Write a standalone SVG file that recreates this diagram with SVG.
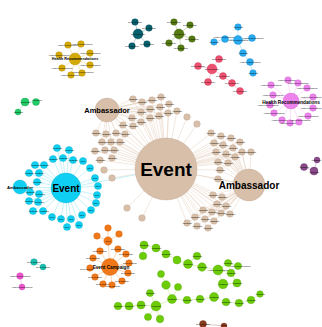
<svg xmlns="http://www.w3.org/2000/svg" width="322" height="327" viewBox="0 0 322 327">
<style>
text{font-family:"Liberation Sans",Arial,sans-serif;text-anchor:middle;fill:#000}
.lb{font-size:1.8px}
.hb{font-weight:bold}
.ta{fill:#d8bfa9;stroke:#b99f8a;stroke-width:.35}
.cy{fill:#0fd0f2;stroke:#0aa8c6;stroke-width:.35}
.or{fill:#f07818;stroke:#c85e0a;stroke-width:.35}
.gr{fill:#6ccc08;stroke:#52a000;stroke-width:.35}
.go{fill:#d6aa04;stroke:#a88400;stroke-width:.35}
.te{fill:#07606e;stroke:#03434e;stroke-width:.35}
.ol{fill:#557a12;stroke:#3c5a08;stroke-width:.35}
.bl{fill:#28aaf0;stroke:#1484c4;stroke-width:.35}
.pk{fill:#ee5070;stroke:#c43454;stroke-width:.35}
.vi{fill:#ec82ec;stroke:#c860c8;stroke-width:.35}
.pu{fill:#884a88;stroke:#663066;stroke-width:.35}
.dg{fill:#22cc66;stroke:#109950;stroke-width:.35}
.ts{fill:#18c0b0;stroke:#0c9888;stroke-width:.35}
.pi{fill:#ee55cc;stroke:#c43aa8;stroke-width:.35}
.br{fill:#8a3c1e;stroke:#66280e;stroke-width:.35}
.e{fill:none;stroke-width:.5}
</style>
<g id="connectors">
<path class="e" stroke="#e4d0be" d="M133 99L166 169M142 102L166 169M152 100L166 169M161 97L166 169M169 104L166 169M160 107L166 169M150 109L166 169M141 112L166 169M132 118L166 169M141 122L166 169M150 118L166 169M159 116L166 169M168 113L166 169M177 111L166 169M123 125L166 169M133 126L166 169M187 117L166 169M197 124L166 169M96 133L166 169M106 134L166 169M116 133L166 169M125 134L166 169M102 142L166 169M111 142L166 169M120 142L166 169M95 151L166 169M105 150L166 169M113 150L166 169M100 160L166 169M112 158L166 169M104 170L166 169M112 178L166 169M127 208L166 169M142 218L166 169M211 133L166 169M221 136L166 169M231 138L166 169M240 142L166 169M251 152L166 169M214 143L166 169M223 145L166 169M233 148L166 169M216 152L166 169M226 154L166 169M235 157L166 169M242 152L166 169M218 162L166 169M228 163L166 169M220 170L166 169M218 179L166 169M213 195L166 169M222 197L166 169M217 204L166 169M226 206L166 169M203 210L166 169M212 212L166 169M221 213L166 169M230 214L166 169M195 217L166 169M205 219L166 169M214 221L166 169M187 223L166 169M197 226L166 169M208 228L166 169M166 169L249 185M166 169L107 110"/>
<path class="e" stroke="#e4d0be" d="M107 110L133 99M107 110L142 102M107 110L152 100M107 110L161 97M107 110L169 104M107 110L160 107M107 110L150 109M107 110L141 112M107 110L132 118M107 110L141 122M107 110L150 118M107 110L159 116M107 110L168 113M107 110L123 125M107 110L133 126M107 110L96 133M107 110L106 134M107 110L116 133M107 110L125 134M107 110L102 142M107 110L111 142M107 110L120 142"/>
<path class="e" stroke="#e4d0be" d="M249 185L211 133M249 185L221 136M249 185L231 138M249 185L240 142M249 185L251 152M249 185L214 143M249 185L223 145M249 185L233 148M249 185L216 152M249 185L226 154M249 185L235 157M249 185L242 152M249 185L218 162M249 185L228 163M249 185L220 170M249 185L218 179M249 185L213 195M249 185L222 197M249 185L217 204M249 185L226 206M249 185L203 210M249 185L212 212M249 185L221 213M249 185L230 214M249 185L195 217M249 185L205 219M249 185L214 221M249 185L187 223M249 185L197 226M249 185L208 228"/>
<path class="e" stroke="#8ae6f7" d="M66 188L57 148M66 188L69 150M66 188L53 159M66 188L63 158M66 188L73 160M66 188L83 161M66 188L35 165M66 188L44 165M66 188L90 168M66 188L29 173M66 188L39 173M66 188L95 178M66 188L37 182M66 188L98 186M66 188L30 192M66 188L39 194M66 188L97 195M66 188L29 201M66 188L38 202M66 188L96 203M66 188L33 211M66 188L43 211M66 188L91 210M66 188L82 215M66 188L52 217M66 188L61 219M66 188L71 219M66 188L67 227M66 188L79 225M66 188L20 187M66 188L166 169"/>
<path class="e" stroke="#f8b474" d="M110 267L108 241M108 241L108 228M108 241L97 236M108 241L119 234M110 267L100 251M110 267L118 249M110 267L93 258M110 267L126 254M110 267L129 263M110 267L91 268M110 267L128 273M110 267L95 277M110 267L122 281M110 267L103 284M110 267L112 285"/>
<path class="e" stroke="#b6e67a" d="M144 245L156 248M144 245L143 256M156 248L166 254M166 254L177 260M177 260L188 264M188 264L197 256M188 264L202 267M202 267L218 270M218 270L228 263M228 263L238 266M218 270L231 273M228 263L231 273M231 273L237 283M218 270L223 284M223 284L237 283M223 284L214 297M214 297L200 299M200 299L187 300M214 297L226 302M226 302L239 303M239 303L251 300M251 300L260 294M161 274L166 285M166 285L172 299M178 287L172 299M172 299L187 300M150 293L156 306M172 299L156 306M156 306L141 305M141 305L129 306M129 306L118 306M156 306L148 317M156 306L160 319"/>
<path class="e" stroke="#ecd27a" d="M75 59L68 45M75 59L81 44M75 59L90 53M75 59L59 55M75 59L90 65M75 59L62 68M75 59L71 75M75 59L82 73"/>
<path class="e" stroke="#6aa4ac" d="M138 34L135 22M138 34L149 28M138 34L147 44M138 34L132 46"/>
<path class="e" stroke="#a4bc7c" d="M179 34L174 22M179 34L190 25M179 34L192 39M179 34L169 43M179 34L181 48"/>
<path class="e" stroke="#8cd0f6" d="M238 40L238 27M238 40L225 39M225 39L214 42M238 40L252 38M238 40L243 53M243 53L250 62M250 62L253 73"/>
<path class="e" stroke="#f4a0b2" d="M212 69L198 66M212 69L219 59M212 69L208 82M212 69L223 76M223 76L232 83M232 83L240 91"/>
<path class="e" stroke="#f4c0f4" d="M291 101L271 85M291 101L288 80M291 101L298 83M291 101L307 88M291 101L313 97M291 101L313 107M291 101L273 95M291 101L270 104M291 101L274 113M291 101L282 120M291 101L290 123M291 101L299 122M291 101L308 116"/>
<path class="e" stroke="#b890b8" d="M304 167L314 171M314 171L317 160"/>
<path class="e" stroke="#80e0a8" d="M25 102L36 102M25 102L18 112"/>
<path class="e" stroke="#80dcd0" d="M34 262L43 267"/>
<path class="e" stroke="#f4a0e0" d="M20 276L22 287"/>
<path class="e" stroke="#c09080" d="M203 324L224 326"/>
</g>
<g id="n-event"><circle class="ta" cx="166" cy="169" r="31"/><text class="hb" x="166" y="176" font-size="19">Event</text></g>
<g id="n-amb1"><circle class="ta" cx="107" cy="110" r="12"/><text class="hb" x="107" y="112.5" font-size="7.5">Ambassador</text></g>
<g id="n-amb2"><circle class="ta" cx="249" cy="185" r="16"/><text class="hb" x="249" y="188.5" font-size="10">Ambassador</text></g>
<g id="tan">
<g id="t1"><circle class="ta" cx="133" cy="99" r="3.3"/><text class="lb" x="133" y="99.6">Ambassador</text></g>
<g id="t2"><circle class="ta" cx="142" cy="102" r="3.3"/><text class="lb" x="142" y="102.6">Ambassador</text></g>
<g id="t3"><circle class="ta" cx="152" cy="100" r="3.3"/><text class="lb" x="152" y="100.6">Ambassador</text></g>
<g id="t4"><circle class="ta" cx="161" cy="97" r="3.3"/><text class="lb" x="161" y="97.6">Ambassador</text></g>
<g id="t5"><circle class="ta" cx="169" cy="104" r="3.3"/><text class="lb" x="169" y="104.6">Ambassador</text></g>
<g id="t6"><circle class="ta" cx="160" cy="107" r="3.3"/><text class="lb" x="160" y="107.6">Ambassador</text></g>
<g id="t7"><circle class="ta" cx="150" cy="109" r="3.3"/><text class="lb" x="150" y="109.6">Ambassador</text></g>
<g id="t8"><circle class="ta" cx="141" cy="112" r="3.3"/><text class="lb" x="141" y="112.6">Ambassador</text></g>
<g id="t9"><circle class="ta" cx="132" cy="118" r="3.3"/><text class="lb" x="132" y="118.6">Ambassador</text></g>
<g id="t10"><circle class="ta" cx="141" cy="122" r="3.3"/><text class="lb" x="141" y="122.6">Ambassador</text></g>
<g id="t11"><circle class="ta" cx="150" cy="118" r="3.3"/><text class="lb" x="150" y="118.6">Ambassador</text></g>
<g id="t12"><circle class="ta" cx="159" cy="116" r="3.3"/><text class="lb" x="159" y="116.6">Ambassador</text></g>
<g id="t13"><circle class="ta" cx="168" cy="113" r="3.3"/><text class="lb" x="168" y="113.6">Ambassador</text></g>
<g id="t14"><circle class="ta" cx="177" cy="111" r="3.3"/><text class="lb" x="177" y="111.6">Ambassador</text></g>
<g id="t15"><circle class="ta" cx="123" cy="125" r="3.3"/><text class="lb" x="123" y="125.6">Ambassador</text></g>
<g id="t16"><circle class="ta" cx="133" cy="126" r="3.3"/><text class="lb" x="133" y="126.6">Ambassador</text></g>
<g id="t17"><circle class="ta" cx="187" cy="117" r="3.3"/></g>
<g id="t18"><circle class="ta" cx="197" cy="124" r="3.3"/></g>
<g id="t19"><circle class="ta" cx="96" cy="133" r="3.3"/><text class="lb" x="96" y="133.6">Ambassador</text></g>
<g id="t20"><circle class="ta" cx="106" cy="134" r="3.3"/><text class="lb" x="106" y="134.6">Ambassador</text></g>
<g id="t21"><circle class="ta" cx="116" cy="133" r="3.3"/><text class="lb" x="116" y="133.6">Ambassador</text></g>
<g id="t22"><circle class="ta" cx="125" cy="134" r="3.3"/><text class="lb" x="125" y="134.6">Ambassador</text></g>
<g id="t23"><circle class="ta" cx="102" cy="142" r="3.3"/><text class="lb" x="102" y="142.6">Ambassador</text></g>
<g id="t24"><circle class="ta" cx="111" cy="142" r="3.3"/><text class="lb" x="111" y="142.6">Ambassador</text></g>
<g id="t25"><circle class="ta" cx="120" cy="142" r="3.3"/><text class="lb" x="120" y="142.6">Ambassador</text></g>
<g id="t26"><circle class="ta" cx="95" cy="151" r="3.3"/><text class="lb" x="95" y="151.6">Ambassador</text></g>
<g id="t27"><circle class="ta" cx="105" cy="150" r="3.3"/><text class="lb" x="105" y="150.6">Ambassador</text></g>
<g id="t28"><circle class="ta" cx="114" cy="150" r="3.3"/><text class="lb" x="114" y="150.6">Ambassador</text></g>
<g id="t29"><circle class="ta" cx="100" cy="160" r="3.3"/><text class="lb" x="100" y="160.6">Ambassador</text></g>
<g id="t30"><circle class="ta" cx="112" cy="158" r="3.3"/><text class="lb" x="112" y="158.6">Ambassador</text></g>
<g id="t31"><circle class="ta" cx="104" cy="170" r="3.3"/></g>
<g id="t32"><circle class="ta" cx="112" cy="178" r="3.3"/></g>
<g id="t33"><circle class="ta" cx="127" cy="208" r="3.3"/></g>
<g id="t34"><circle class="ta" cx="142" cy="218" r="3.3"/></g>
<g id="t35"><circle class="ta" cx="211" cy="133" r="3.3"/><text class="lb" x="211" y="133.6">Ambassador</text></g>
<g id="t36"><circle class="ta" cx="221" cy="136" r="3.3"/><text class="lb" x="221" y="136.6">Ambassador</text></g>
<g id="t37"><circle class="ta" cx="231" cy="138" r="3.3"/><text class="lb" x="231" y="138.6">Ambassador</text></g>
<g id="t38"><circle class="ta" cx="240" cy="142" r="3.3"/><text class="lb" x="240" y="142.6">Ambassador</text></g>
<g id="t39"><circle class="ta" cx="251" cy="152" r="3.3"/><text class="lb" x="251" y="152.6">Ambassador</text></g>
<g id="t40"><circle class="ta" cx="214" cy="143" r="3.3"/><text class="lb" x="214" y="143.6">Ambassador</text></g>
<g id="t41"><circle class="ta" cx="223" cy="145" r="3.3"/><text class="lb" x="223" y="145.6">Ambassador</text></g>
<g id="t42"><circle class="ta" cx="233" cy="148" r="3.3"/><text class="lb" x="233" y="148.6">Ambassador</text></g>
<g id="t43"><circle class="ta" cx="216" cy="152" r="3.3"/><text class="lb" x="216" y="152.6">Ambassador</text></g>
<g id="t44"><circle class="ta" cx="226" cy="154" r="3.3"/><text class="lb" x="226" y="154.6">Ambassador</text></g>
<g id="t45"><circle class="ta" cx="235" cy="157" r="3.3"/><text class="lb" x="235" y="157.6">Ambassador</text></g>
<g id="t46"><circle class="ta" cx="242" cy="152" r="3.3"/><text class="lb" x="242" y="152.6">Ambassador</text></g>
<g id="t47"><circle class="ta" cx="218" cy="162" r="3.3"/><text class="lb" x="218" y="162.6">Ambassador</text></g>
<g id="t48"><circle class="ta" cx="228" cy="163" r="3.3"/><text class="lb" x="228" y="163.6">Ambassador</text></g>
<g id="t49"><circle class="ta" cx="220" cy="170" r="3.3"/><text class="lb" x="220" y="170.6">Ambassador</text></g>
<g id="t50"><circle class="ta" cx="218" cy="179" r="3.3"/><text class="lb" x="218" y="179.6">Ambassador</text></g>
<g id="t51"><circle class="ta" cx="213" cy="195" r="3.3"/><text class="lb" x="213" y="195.6">Ambassador</text></g>
<g id="t52"><circle class="ta" cx="222" cy="197" r="3.3"/><text class="lb" x="222" y="197.6">Ambassador</text></g>
<g id="t53"><circle class="ta" cx="217" cy="204" r="3.3"/><text class="lb" x="217" y="204.6">Ambassador</text></g>
<g id="t54"><circle class="ta" cx="226" cy="206" r="3.3"/><text class="lb" x="226" y="206.6">Ambassador</text></g>
<g id="t55"><circle class="ta" cx="203" cy="210" r="3.3"/><text class="lb" x="203" y="210.6">Ambassador</text></g>
<g id="t56"><circle class="ta" cx="212" cy="212" r="3.3"/><text class="lb" x="212" y="212.6">Ambassador</text></g>
<g id="t57"><circle class="ta" cx="221" cy="213" r="3.3"/><text class="lb" x="221" y="213.6">Ambassador</text></g>
<g id="t58"><circle class="ta" cx="230" cy="214" r="3.3"/><text class="lb" x="230" y="214.6">Ambassador</text></g>
<g id="t59"><circle class="ta" cx="195" cy="217" r="3.3"/><text class="lb" x="195" y="217.6">Ambassador</text></g>
<g id="t60"><circle class="ta" cx="205" cy="219" r="3.3"/><text class="lb" x="205" y="219.6">Ambassador</text></g>
<g id="t61"><circle class="ta" cx="214" cy="221" r="3.3"/><text class="lb" x="214" y="221.6">Ambassador</text></g>
<g id="t62"><circle class="ta" cx="187" cy="223" r="3.3"/><text class="lb" x="187" y="223.6">Ambassador</text></g>
<g id="t63"><circle class="ta" cx="197" cy="226" r="3.3"/><text class="lb" x="197" y="226.6">Ambassador</text></g>
<g id="t64"><circle class="ta" cx="208" cy="228" r="3.3"/><text class="lb" x="208" y="228.6">Ambassador</text></g>
</g>
<g id="n-cevent"><circle class="cy" cx="66" cy="188" r="15"/><text class="hb" x="66" y="191.5" font-size="10">Event</text></g>
<g id="n-camb"><circle class="cy" cx="20" cy="187" r="7"/><text class="hb" x="20" y="188.5" font-size="4.3">Ambassador</text></g>
<g id="cyan">
<g id="c1"><circle class="cy" cx="57" cy="148" r="3.6"/><text class="lb" x="57" y="148.6">Ambassador</text></g>
<g id="c2"><circle class="cy" cx="69" cy="150" r="3.6"/><text class="lb" x="69" y="150.6">Ambassador</text></g>
<g id="c3"><circle class="cy" cx="53" cy="159" r="3.6"/><text class="lb" x="53" y="159.6">Ambassador</text></g>
<g id="c4"><circle class="cy" cx="63" cy="158" r="3.6"/><text class="lb" x="63" y="158.6">Ambassador</text></g>
<g id="c5"><circle class="cy" cx="73" cy="160" r="3.6"/><text class="lb" x="73" y="160.6">Ambassador</text></g>
<g id="c6"><circle class="cy" cx="83" cy="161" r="3.6"/><text class="lb" x="83" y="161.6">Event</text></g>
<g id="c7"><circle class="cy" cx="35" cy="165" r="3.6"/><text class="lb" x="35" y="165.6">Ambassador</text></g>
<g id="c8"><circle class="cy" cx="44" cy="165" r="3.6"/><text class="lb" x="44" y="165.6">Ambassador</text></g>
<g id="c9"><circle class="cy" cx="90" cy="168" r="3.6"/><text class="lb" x="90" y="168.6">Event</text></g>
<g id="c10"><circle class="cy" cx="29" cy="173" r="3.6"/><text class="lb" x="29" y="173.6">Ambassador</text></g>
<g id="c11"><circle class="cy" cx="39" cy="173" r="3.6"/><text class="lb" x="39" y="173.6">Ambassador</text></g>
<g id="c12"><circle class="cy" cx="95" cy="178" r="3.6"/><text class="lb" x="95" y="178.6">Event</text></g>
<g id="c13"><circle class="cy" cx="37" cy="182" r="3.6"/><text class="lb" x="37" y="182.6">Ambassador</text></g>
<g id="c14"><circle class="cy" cx="98" cy="186" r="3.6"/><text class="lb" x="98" y="186.6">Event</text></g>
<g id="c15"><circle class="cy" cx="30" cy="192" r="3.6"/><text class="lb" x="30" y="192.6">Ambassador</text></g>
<g id="c16"><circle class="cy" cx="39" cy="194" r="3.6"/><text class="lb" x="40" y="194.6">Ambassador</text></g>
<g id="c17"><circle class="cy" cx="97" cy="195" r="3.6"/><text class="lb" x="97" y="195.6">Event</text></g>
<g id="c18"><circle class="cy" cx="29" cy="201" r="3.6"/><text class="lb" x="29" y="201.6">Ambassador</text></g>
<g id="c19"><circle class="cy" cx="38" cy="202" r="3.6"/><text class="lb" x="39" y="202.6">Ambassador</text></g>
<g id="c20"><circle class="cy" cx="96" cy="203" r="3.6"/><text class="lb" x="96" y="203.6">Event</text></g>
<g id="c21"><circle class="cy" cx="33" cy="211" r="3.6"/><text class="lb" x="33" y="211.6">Ambassador</text></g>
<g id="c22"><circle class="cy" cx="43" cy="211" r="3.6"/><text class="lb" x="44" y="211.6">Ambassador</text></g>
<g id="c23"><circle class="cy" cx="91" cy="210" r="3.6"/><text class="lb" x="91" y="210.6">Event</text></g>
<g id="c24"><circle class="cy" cx="82" cy="215" r="3.6"/><text class="lb" x="82" y="215.6">Event</text></g>
<g id="c25"><circle class="cy" cx="52" cy="217" r="3.6"/><text class="lb" x="52" y="217.6">Event</text></g>
<g id="c26"><circle class="cy" cx="61" cy="219" r="3.6"/><text class="lb" x="61" y="219.6">Event</text></g>
<g id="c27"><circle class="cy" cx="71" cy="219" r="3.6"/><text class="lb" x="71" y="219.6">Event</text></g>
<g id="c28"><circle class="cy" cx="67" cy="227" r="3.6"/><text class="lb" x="67" y="227.6">Event</text></g>
<g id="c29"><circle class="cy" cx="79" cy="225" r="3.6"/><text class="lb" x="79" y="225.6">Event</text></g>
</g>
<g id="orange">
<g id="o1"><circle class="or" cx="108" cy="228" r="3.3"/></g>
<g id="o2"><circle class="or" cx="97" cy="236" r="3.3"/></g>
<g id="o3"><circle class="or" cx="119" cy="234" r="3.3"/></g>
<g id="o4"><circle class="or" cx="108" cy="241" r="4.2"/><text class="lb" x="108" y="241.6">Event</text></g>
<g id="o5"><circle class="or" cx="100" cy="251" r="3.3"/><text class="lb" x="100" y="251.6">Event Campaign</text></g>
<g id="o6"><circle class="or" cx="118" cy="249" r="3.3"/><text class="lb" x="118" y="249.6">Event Campaign</text></g>
<g id="o7"><circle class="or" cx="93" cy="258" r="3.3"/><text class="lb" x="93" y="258.6">Event Campaign</text></g>
<g id="o8"><circle class="or" cx="126" cy="254" r="3.3"/><text class="lb" x="126" y="254.6">Event Campaign</text></g>
<g id="o9"><circle class="or" cx="129" cy="263" r="3.3"/><text class="lb" x="130" y="263.6">Event Campaign</text></g>
<g id="o10"><circle class="or" cx="90" cy="268" r="3.3"/><text class="lb" x="87" y="269.6">Event Campaign</text></g>
<g id="o11"><circle class="or" cx="128" cy="273" r="3.3"/><text class="lb" x="128" y="273.6">Event Campaign</text></g>
<g id="o12"><circle class="or" cx="95" cy="277" r="3.3"/><text class="lb" x="95" y="277.6">Event Campaign</text></g>
<g id="o13"><circle class="or" cx="122" cy="281" r="3.3"/><text class="lb" x="122" y="281.6">Event Campaign</text></g>
<g id="o14"><circle class="or" cx="103" cy="284" r="3.3"/><text class="lb" x="103" y="284.6">Event Campaign</text></g>
<g id="o15"><circle class="or" cx="112" cy="285" r="3.3"/><text class="lb" x="113" y="286.6">Event Campaign</text></g>
<g id="o0"><circle class="or" cx="110" cy="267" r="8.5"/><text class="hb" x="111" y="268.5" font-size="4.7">Event Campaign</text></g>
</g>
<g id="green">
<g id="g1"><circle class="gr" cx="144" cy="245" r="4"/><text class="lb" x="144" y="245.6">Ambassador</text></g>
<g id="g2"><circle class="gr" cx="156" cy="248" r="4"/><text class="lb" x="156" y="248.6">Ambassador</text></g>
<g id="g3"><circle class="gr" cx="143" cy="256" r="3.8"/></g>
<g id="g4"><circle class="gr" cx="166" cy="254" r="4"/><text class="lb" x="166" y="254.6">Ambassador</text></g>
<g id="g5"><circle class="gr" cx="177" cy="260" r="4"/></g>
<g id="g6"><circle class="gr" cx="188" cy="264" r="4.5"/><text class="lb" x="188" y="264.6">Ambassador</text></g>
<g id="g7"><circle class="gr" cx="197" cy="256" r="3.8"/><text class="lb" x="197" y="256.6">Ambassador</text></g>
<g id="g8"><circle class="gr" cx="202" cy="267" r="4.3"/><text class="lb" x="202" y="267.6">Ambassador</text></g>
<g id="g9"><circle class="gr" cx="218" cy="270" r="5"/><text class="lb" x="218" y="270.6">Health Recommendations</text></g>
<g id="g10"><circle class="gr" cx="228" cy="263" r="3.6"/><text class="lb" x="228" y="263.6">Ambassador</text></g>
<g id="g11"><circle class="gr" cx="238" cy="266" r="3.6"/><text class="lb" x="240" y="266.6">Health Recommendations</text></g>
<g id="g12"><circle class="gr" cx="231" cy="273" r="3.8"/><text class="lb" x="231" y="273.6">Ambassador</text></g>
<g id="g13"><circle class="gr" cx="223" cy="284" r="4.8"/><text class="lb" x="223" y="284.6">Ambassador</text></g>
<g id="g14"><circle class="gr" cx="237" cy="283" r="4"/><text class="lb" x="237" y="283.6">Ambassador</text></g>
<g id="g15"><circle class="gr" cx="214" cy="297" r="4.5"/><text class="lb" x="214" y="297.6">Ambassador</text></g>
<g id="g16"><circle class="gr" cx="200" cy="299" r="3.8"/><text class="lb" x="200" y="299.6">Ambassador</text></g>
<g id="g17"><circle class="gr" cx="226" cy="302" r="3.8"/><text class="lb" x="226" y="302.6">Ambassador</text></g>
<g id="g18"><circle class="gr" cx="239" cy="303" r="3.8"/><text class="lb" x="239" y="303.6">Ambassador</text></g>
<g id="g19"><circle class="gr" cx="251" cy="300" r="3.8"/><text class="lb" x="251" y="300.6">Ambassador</text></g>
<g id="g20"><circle class="gr" cx="260" cy="294" r="3.3"/><text class="lb" x="260" y="294.6">Ambassador</text></g>
<g id="g21"><circle class="gr" cx="161" cy="274" r="3.5"/></g>
<g id="g22"><circle class="gr" cx="166" cy="285" r="4.3"/></g>
<g id="g23"><circle class="gr" cx="178" cy="287" r="3.6"/></g>
<g id="g24"><circle class="gr" cx="150" cy="293" r="3.6"/><text class="lb" x="150" y="293.6">Ambassador</text></g>
<g id="g25"><circle class="gr" cx="172" cy="299" r="4.5"/><text class="lb" x="172" y="299.6">Ambassador</text></g>
<g id="g26"><circle class="gr" cx="187" cy="300" r="3.8"/><text class="lb" x="187" y="300.6">Ambassador</text></g>
<g id="g27"><circle class="gr" cx="156" cy="306" r="5"/><text class="lb" x="156" y="306.6">Ambassador</text></g>
<g id="g28"><circle class="gr" cx="141" cy="305" r="4"/><text class="lb" x="141" y="305.6">Ambassador</text></g>
<g id="g29"><circle class="gr" cx="129" cy="306" r="4"/><text class="lb" x="129" y="306.6">Ambassador</text></g>
<g id="g30"><circle class="gr" cx="118" cy="306" r="3.8"/><text class="lb" x="118" y="306.6">Ambassador</text></g>
<g id="g31"><circle class="gr" cx="148" cy="317" r="3.6"/></g>
<g id="g32"><circle class="gr" cx="160" cy="319" r="3.8"/></g>
</g>
<g id="gold">
<g id="y1"><circle class="go" cx="68" cy="45" r="3.3"/><text class="lb" x="68" y="45.6" font-size="1.5">Health Recommendations</text></g>
<g id="y2"><circle class="go" cx="81" cy="44" r="3.3"/><text class="lb" x="82" y="44.6" font-size="1.5">Health Recommendations</text></g>
<g id="y3"><circle class="go" cx="90" cy="53" r="3.3"/><text class="lb" x="90" y="53.6" font-size="1.5">Health Recommendations</text></g>
<g id="y4"><circle class="go" cx="59" cy="55" r="3.3"/><text class="lb" x="59" y="55.6" font-size="1.5">Health Recommendations</text></g>
<g id="y5"><circle class="go" cx="90" cy="65" r="3.3"/><text class="lb" x="90" y="65.6" font-size="1.5">Health Recommendations</text></g>
<g id="y6"><circle class="go" cx="62" cy="68" r="3.3"/><text class="lb" x="62" y="68.6" font-size="1.5">Health Recommendations</text></g>
<g id="y7"><circle class="go" cx="71" cy="75" r="3.3"/><text class="lb" x="71" y="75.6" font-size="1.5">Health Recommendations</text></g>
<g id="y8"><circle class="go" cx="82" cy="73" r="3.3"/><text class="lb" x="83" y="72.6" font-size="1.5">Health Recommendations</text></g>
<g id="y0"><circle class="go" cx="75" cy="59" r="6"/><text class="hb" x="75" y="60.3" font-size="3.8">Health Recommendations</text></g>
</g>
<g id="teal">
<g id="k0"><circle class="te" cx="138" cy="34" r="5"/><text class="lb" x="138" y="34.6">Event Campaign</text></g>
<g id="k1"><circle class="te" cx="135" cy="22" r="3.3"/><text class="lb" x="135" y="22.6">Event Campaign</text></g>
<g id="k2"><circle class="te" cx="149" cy="28" r="3.3"/><text class="lb" x="149" y="28.6">Event Campaign</text></g>
<g id="k3"><circle class="te" cx="147" cy="44" r="3.3"/><text class="lb" x="147" y="44.6">Event Campaign</text></g>
<g id="k4"><circle class="te" cx="132" cy="46" r="3.3"/><text class="lb" x="132" y="46.6">Event Campaign</text></g>
</g>
<g id="olive">
<g id="v0"><circle class="ol" cx="179" cy="34" r="5"/><text class="lb" x="179" y="34.6">Event Campaign</text></g>
<g id="v1"><circle class="ol" cx="174" cy="22" r="3.3"/><text class="lb" x="174" y="22.6">Event Campaign</text></g>
<g id="v2"><circle class="ol" cx="190" cy="25" r="3.3"/><text class="lb" x="190" y="25.6">Event Campaign</text></g>
<g id="v3"><circle class="ol" cx="192" cy="39" r="3.3"/><text class="lb" x="192" y="39.6">Event Campaign</text></g>
<g id="v4"><circle class="ol" cx="169" cy="43" r="3.3"/><text class="lb" x="169" y="43.6">Event Campaign</text></g>
<g id="v5"><circle class="ol" cx="181" cy="48" r="3.3"/><text class="lb" x="181" y="48.6">Event Campaign</text></g>
</g>
<g id="blue">
<g id="b0"><circle class="bl" cx="238" cy="40" r="4.5"/><text class="lb" x="238" y="40.6">Health Recommendations</text></g>
<g id="b1"><circle class="bl" cx="238" cy="27" r="3.3"/><text class="lb" x="238" y="27.6">Ambassador</text></g>
<g id="b2"><circle class="bl" cx="225" cy="39" r="3.5"/><text class="lb" x="224" y="38.2">Health Recommendations</text></g>
<g id="b3"><circle class="bl" cx="214" cy="42" r="3.3"/><text class="lb" x="214" y="42.6">Ambassador</text></g>
<g id="b4"><circle class="bl" cx="252" cy="38" r="3.5"/><text class="lb" x="253" y="38.6">Health Recommendations</text></g>
<g id="b5"><circle class="bl" cx="243" cy="53" r="3.5"/><text class="lb" x="243" y="53.6">Ambassador</text></g>
<g id="b6"><circle class="bl" cx="250" cy="62" r="3.5"/><text class="lb" x="250" y="62.6">Health Recommendations</text></g>
<g id="b7"><circle class="bl" cx="253" cy="73" r="3.3"/><text class="lb" x="253" y="73.6">Ambassador</text></g>
</g>
<g id="pink">
<g id="p0"><circle class="pk" cx="212" cy="69" r="5"/><text class="lb" x="212" y="69.6">Event Campaign</text></g>
<g id="p1"><circle class="pk" cx="198" cy="66" r="3.5"/><text class="lb" x="198" y="66.6">Event Campaign</text></g>
<g id="p2"><circle class="pk" cx="219" cy="59" r="3.5"/><text class="lb" x="219" y="59.6">Event Campaign</text></g>
<g id="p3"><circle class="pk" cx="208" cy="82" r="3.5"/><text class="lb" x="208" y="82.6">Event Campaign</text></g>
<g id="p4"><circle class="pk" cx="223" cy="76" r="3.5"/><text class="lb" x="223" y="76.6">Event Campaign</text></g>
<g id="p5"><circle class="pk" cx="232" cy="83" r="3.5"/><text class="lb" x="232" y="83.6">Event Campaign</text></g>
<g id="p6"><circle class="pk" cx="240" cy="91" r="3.5"/><text class="lb" x="240" y="91.6">Event Campaign</text></g>
</g>
<g id="violet">
<g id="w1"><circle class="vi" cx="271" cy="85" r="3.3"/><text class="lb" x="271" y="85.6" font-size="1.5">Health Recommendations</text></g>
<g id="w2"><circle class="vi" cx="288" cy="80" r="3.3"/><text class="lb" x="288" y="80.6" font-size="1.5">Health Recommendations</text></g>
<g id="w3"><circle class="vi" cx="298" cy="83" r="3.3"/><text class="lb" x="298" y="83.6" font-size="1.5">Health Recommendations</text></g>
<g id="w4"><circle class="vi" cx="307" cy="88" r="3.3"/><text class="lb" x="307" y="88.6" font-size="1.5">Health Recommendations</text></g>
<g id="w5"><circle class="vi" cx="313" cy="97" r="3.3"/><text class="lb" x="311" y="97.6" font-size="1.4">Health Recommendations</text></g>
<g id="w6"><circle class="vi" cx="313" cy="108" r="3.3"/><text class="lb" x="311" y="108.6" font-size="1.4">Health Recommendations</text></g>
<g id="w7"><circle class="vi" cx="273" cy="95" r="3.3"/><text class="lb" x="273" y="95.6" font-size="1.5">Health Recommendations</text></g>
<g id="w8"><circle class="vi" cx="270" cy="105" r="3.3"/><text class="lb" x="268" y="106.4" font-size="1.5">Health Recommendations</text></g>
<g id="w9"><circle class="vi" cx="274" cy="113" r="3.3"/><text class="lb" x="274" y="113.6" font-size="1.5">Health Recommendations</text></g>
<g id="w10"><circle class="vi" cx="282" cy="120" r="3.3"/><text class="lb" x="282" y="120.6" font-size="1.5">Health Recommendations</text></g>
<g id="w11"><circle class="vi" cx="290" cy="123" r="3.3"/><text class="lb" x="290" y="124.2" font-size="1.5">Health Recommendations</text></g>
<g id="w12"><circle class="vi" cx="299" cy="122" r="3.3"/><text class="lb" x="300" y="121.4" font-size="1.5">Health Recommendations</text></g>
<g id="w13"><circle class="vi" cx="308" cy="116" r="3.3"/><text class="lb" x="308" y="116.6" font-size="1.5">Health Recommendations</text></g>
<g id="w0"><circle class="vi" cx="291" cy="101" r="8"/><text class="hb" x="291" y="103.7" font-size="4.7">Health Recommendations</text></g>
</g>
<g id="purple">
<g id="u1"><circle class="pu" cx="317" cy="160" r="3"/><text class="lb" x="316" y="160.6">Ambassador</text></g>
<g id="u2"><circle class="pu" cx="304" cy="167" r="3.5"/><text class="lb" x="304" y="167.6">Ambassador</text></g>
<g id="u3"><circle class="pu" cx="314" cy="171" r="4"/><text class="lb" x="314" y="172.6">Ambassador</text></g>
</g>
<g id="dgreen">
<g id="d1"><circle class="dg" cx="25" cy="102" r="4"/><text class="lb" x="25" y="102.6">Ambassador</text></g>
<g id="d2"><circle class="dg" cx="36" cy="102" r="3.5"/><text class="lb" x="37" y="101.4">Ambassador</text></g>
<g id="d3"><circle class="dg" cx="18" cy="112" r="3"/><text class="lb" x="18" y="112.6">Ambassador</text></g>
</g>
<g id="tsmall">
<g id="s1"><circle class="ts" cx="34" cy="262" r="3.3"/><text class="lb" x="34" y="262.6">Event Campaign</text></g>
<g id="s2"><circle class="ts" cx="43" cy="267" r="3"/><text class="lb" x="43" y="267.6">Event Campaign</text></g>
</g>
<g id="psmall">
<g id="q1"><circle class="pi" cx="20" cy="276" r="3.3"/><text class="lb" x="20" y="276.6" font-size="1.5">Health Recommendations</text></g>
<g id="q2"><circle class="pi" cx="22" cy="287" r="3"/><text class="lb" x="22" y="287.6" font-size="1.5">Health Recommendations</text></g>
</g>
<g id="brown">
<g id="r1"><circle class="br" cx="203" cy="324" r="3.5"/><text class="lb" x="203" y="324.6">Event Campaign</text></g>
<g id="r2"><circle class="br" cx="224" cy="326" r="3"/><text class="lb" x="224" y="326">Event</text></g>
</g>
</svg>
